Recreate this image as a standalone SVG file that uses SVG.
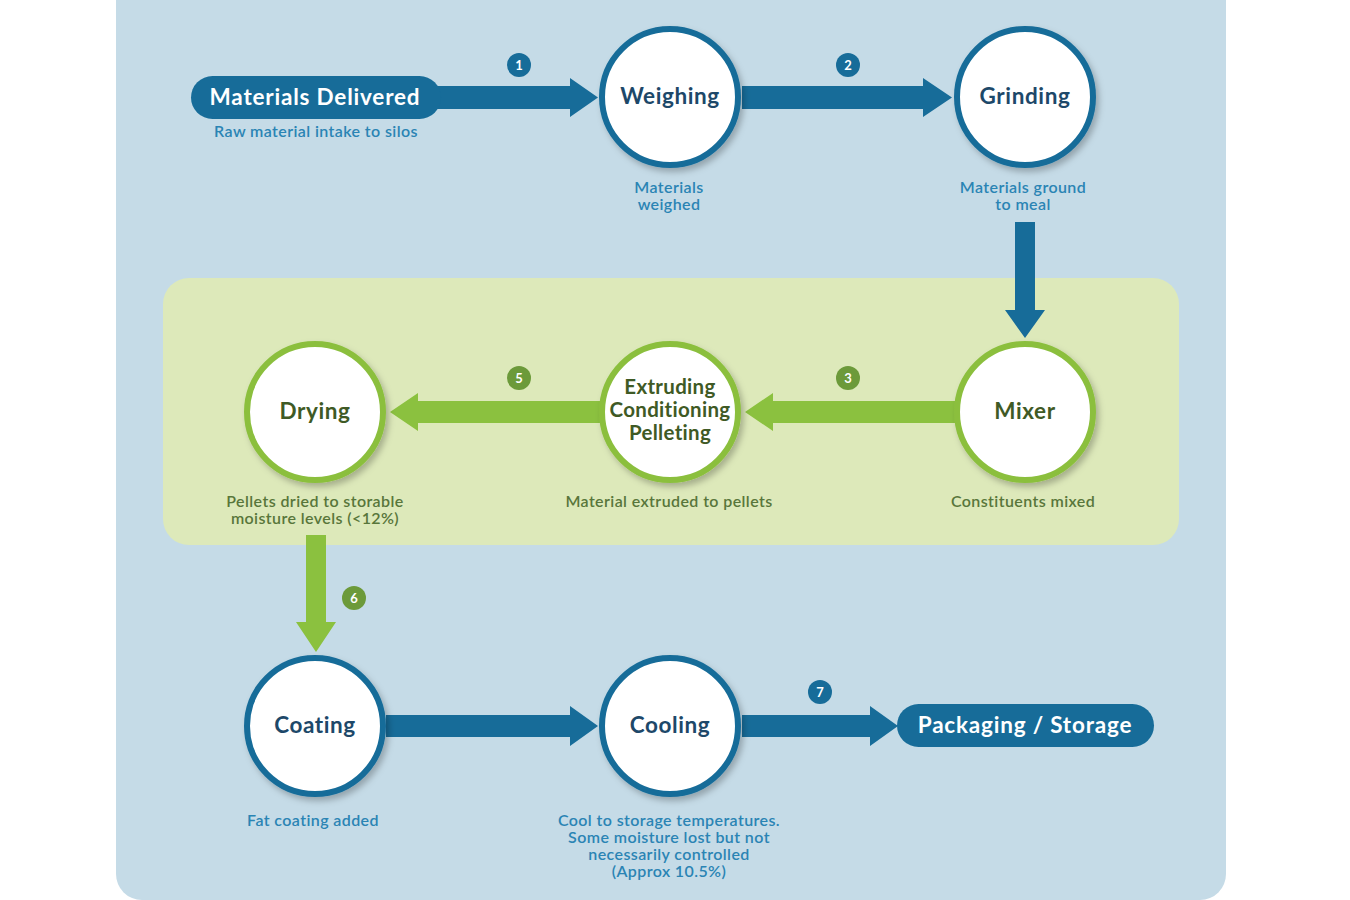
<svg xmlns="http://www.w3.org/2000/svg" width="1350" height="900" viewBox="0 0 1350 900">
<defs>
<filter id="sh" x="-20%" y="-20%" width="150%" height="150%">
<feDropShadow dx="3" dy="4" stdDeviation="3" flood-color="#000" flood-opacity="0.25"/>
</filter>
</defs>
<style>
.nb{fill:#fff;stroke:#176c99;stroke-width:6}
.ng{fill:#fff;stroke:#8bbf3e;stroke-width:6}
.tb{font-family:Lato,"Open Sans",sans-serif;font-weight:700;font-size:22.5px;letter-spacing:0.6px;fill:#1d4869;text-anchor:middle}
.tg{font-family:Lato,"Open Sans",sans-serif;font-weight:700;font-size:22.5px;letter-spacing:0.6px;fill:#3f5a25;text-anchor:middle}
.tx{font-family:Lato,"Open Sans",sans-serif;font-weight:700;font-size:20.5px;letter-spacing:0.3px;fill:#3f5a25;text-anchor:middle}
.tw{font-family:Lato,"Open Sans",sans-serif;font-weight:700;font-size:22.5px;letter-spacing:0.8px;fill:#fff;text-anchor:middle}
.cb{font-family:Lato,"Open Sans",sans-serif;font-weight:600;font-size:16px;letter-spacing:0.4px;fill:#2a84b4;text-anchor:middle}
.cg{font-family:Lato,"Open Sans",sans-serif;font-weight:600;font-size:16px;letter-spacing:0.4px;fill:#58763a;text-anchor:middle}
.ab{fill:#176c99}
.ag{fill:#8bc13f}
.bb{fill:#176c99}
.bg{fill:#6c9a3a}
.bt{font-family:Lato,"Open Sans",sans-serif;font-weight:700;font-size:13px;fill:#fff;text-anchor:middle}
</style>
<rect x="0" y="0" width="1350" height="900" fill="#ffffff"/>
<rect x="116" y="-30" width="1110" height="930" rx="26" fill="#c5dbe7"/>
<rect x="163" y="278" width="1016" height="267" rx="26" fill="#dde9ba"/>

<g id="connectors">
<path class="ab" d="M420,86 H570 V78 L598,97.5 L570,117 V109 H420 Z"/>
<path class="ab" d="M742,86 H923 V78 L952,97.5 L923,117 V109 H742 Z"/>
<path class="ab" d="M1015,222 V310 H1005 L1025,338 L1045,310 H1035 V222 Z"/>
<path class="ag" d="M955,401 H773 V393 L745,412 L773,431 V423 H955 Z"/>
<path class="ag" d="M600,401 H418 V393 L390,412 L418,431 V423 H600 Z"/>
<path class="ag" d="M306,535 V622 H296 L316,652 L336,622 H326 V535 Z"/>
<path class="ab" d="M386,715 H570 V706 L598,726 L570,746 V737 H386 Z"/>
<path class="ab" d="M742,715 H870 V706 L898,726 L870,746 V737 H742 Z"/>
<circle class="bb" cx="519" cy="65" r="12"/><text class="bt" x="519" y="70">1</text>
<circle class="bb" cx="848" cy="65" r="12"/><text class="bt" x="848" y="70">2</text>
<circle class="bg" cx="848" cy="378" r="12"/><text class="bt" x="848" y="383">3</text>
<circle class="bg" cx="519" cy="378" r="12"/><text class="bt" x="519" y="383">5</text>
<circle class="bg" cx="354" cy="598" r="12"/><text class="bt" x="354" y="603">6</text>
<circle class="bb" cx="820" cy="692" r="12"/><text class="bt" x="820" y="697">7</text>
</g>

<g id="materials-delivered">
<rect x="191" y="76" width="250" height="43" rx="21.5" fill="#176c99"/>
<text class="tw" x="315" y="105">Materials Delivered</text>
<text class="cb" x="316" y="137">Raw material intake to silos</text>
</g>

<g id="weighing">
<circle class="nb" cx="670" cy="97" r="68" filter="url(#sh)"/>
<text class="tb" x="670" y="104">Weighing</text>
<text class="cb" x="669" y="193">Materials</text>
<text class="cb" x="669" y="210">weighed</text>
</g>

<g id="grinding">
<circle class="nb" cx="1025" cy="97" r="68" filter="url(#sh)"/>
<text class="tb" x="1025" y="104">Grinding</text>
<text class="cb" x="1023" y="193">Materials ground</text>
<text class="cb" x="1023" y="210">to meal</text>
</g>

<g id="mixer">
<circle class="ng" cx="1025" cy="412" r="68" filter="url(#sh)"/>
<text class="tg" x="1025" y="419">Mixer</text>
<text class="cg" x="1023" y="507">Constituents mixed</text>
</g>

<g id="extruding">
<circle class="ng" cx="670" cy="412" r="68" filter="url(#sh)"/>
<text class="tx" x="670" y="394">Extruding</text>
<text class="tx" x="670" y="417">Conditioning</text>
<text class="tx" x="670" y="440">Pelleting</text>
<text class="cg" x="669" y="507">Material extruded to pellets</text>
</g>

<g id="drying">
<circle class="ng" cx="315" cy="412" r="68" filter="url(#sh)"/>
<text class="tg" x="315" y="419">Drying</text>
<text class="cg" x="315" y="507">Pellets dried to storable</text>
<text class="cg" x="315" y="524">moisture levels (&lt;12%)</text>
</g>

<g id="coating">
<circle class="nb" cx="315" cy="726" r="68" filter="url(#sh)"/>
<text class="tb" x="315" y="733">Coating</text>
<text class="cb" x="313" y="826">Fat coating added</text>
</g>

<g id="cooling">
<circle class="nb" cx="670" cy="726" r="68" filter="url(#sh)"/>
<text class="tb" x="670" y="733">Cooling</text>
<text class="cb" x="669" y="826">Cool to storage temperatures.</text>
<text class="cb" x="669" y="843">Some moisture lost but not</text>
<text class="cb" x="669" y="860">necessarily controlled</text>
<text class="cb" x="669" y="877">(Approx 10.5%)</text>
</g>

<g id="packaging">
<rect x="897" y="704" width="257" height="43" rx="21.5" fill="#176c99"/>
<text class="tw" x="1025" y="733">Packaging / Storage</text>
</g>
</svg>
